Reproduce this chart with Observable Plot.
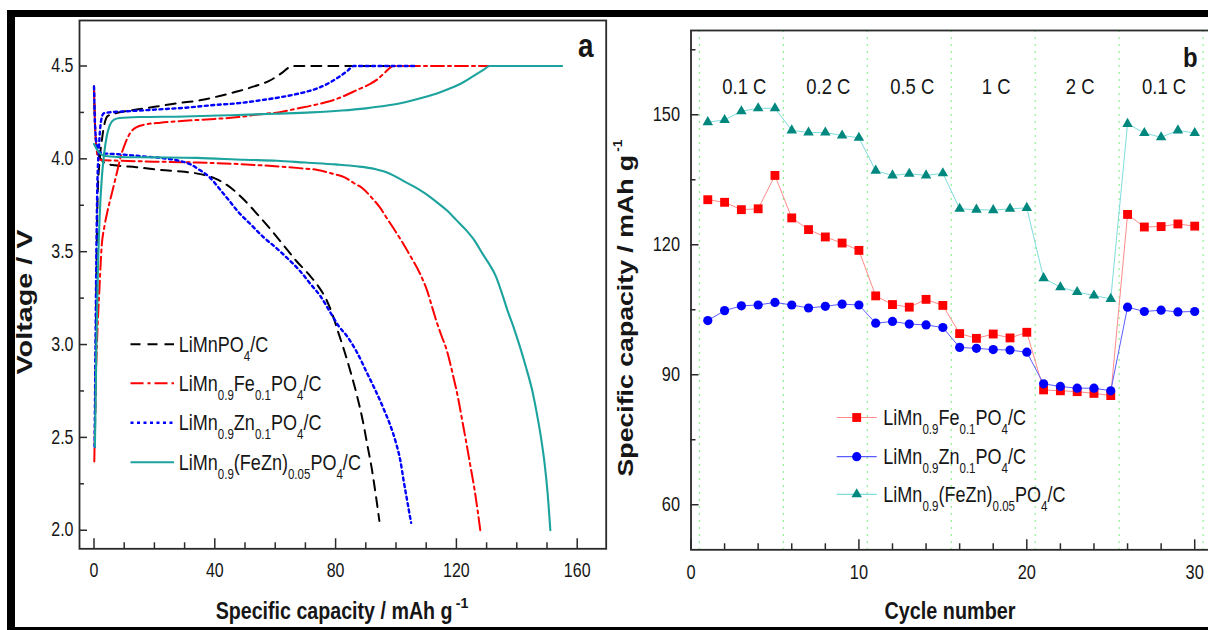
<!DOCTYPE html>
<html><head><meta charset="utf-8">
<script src="https://cdn.jsdelivr.net/npm/d3@7"></script>
<script src="https://cdn.jsdelivr.net/npm/@observablehq/plot@0.6"></script>
<style>
html,body{margin:0;padding:0;background:#fff;}
#wrap{position:relative;width:1208px;height:630px;overflow:hidden;background:#fff;font-family:"Liberation Sans",Arial,sans-serif;}
#wrap svg{position:absolute;top:0;}
.bar{position:absolute;background:#000;z-index:5;}
</style></head><body>
<div id="wrap"></div>
<script>
// ---------- Panel a: charge / discharge curves [capacity mAh/g, voltage V] ----------
const mnCharge = [[0.3,2.45],[0.6,3.0],[0.9,3.5],[1.2,3.8],[1.8,3.98],[2.6,4.1],[3.5,4.19],[4.5,4.23],[7,4.245],[12,4.26],[20,4.28],[28,4.30],[35,4.315],[42,4.34],[48,4.365],[53,4.39],[58,4.42],[62,4.46],[65,4.495],[67,4.5],[100,4.5]];
const mnDischarge = [[0,4.39],[0.3,4.2],[0.6,4.1],[1.2,4.04],[2.2,4.0],[4,3.975],[7,3.965],[14,3.955],[22,3.94],[30,3.93],[36,3.915],[40,3.895],[43,3.87],[46,3.835],[49,3.79],[52,3.74],[55,3.685],[59,3.61],[63,3.53],[67,3.45],[71,3.38],[74,3.32],[77,3.24],[79,3.16],[81,3.06],[83,2.96],[85,2.85],[87,2.73],[89,2.59],[90.5,2.46],[92,2.33],[93.3,2.19],[94.5,2.05]];
const feCharge = [[0.1,2.37],[0.6,2.8],[1.2,3.1],[1.8,3.3],[2.5,3.52],[3.5,3.64],[4.5,3.72],[6,3.82],[7.5,3.92],[9,4.02],[10.5,4.09],[12,4.14],[14,4.17],[17,4.185],[22,4.195],[30,4.205],[40,4.215],[48,4.225],[55,4.24],[61,4.25],[67,4.27],[73,4.29],[78,4.31],[83,4.34],[87,4.37],[91,4.40],[94,4.43],[96,4.46],[98,4.49],[99,4.5],[134,4.5]];
const feDischarge = [[0,4.39],[0.3,4.2],[0.7,4.08],[1.3,4.01],[2,3.995],[8,3.99],[20,3.985],[34,3.98],[48,3.972],[60,3.96],[68,3.95],[74,3.94],[79,3.92],[83,3.90],[86,3.87],[89,3.84],[92,3.79],[94.6,3.74],[97,3.68],[99.8,3.61],[102.5,3.54],[105,3.47],[108,3.38],[110.3,3.29],[112,3.2],[113.5,3.12],[115,3.05],[116.8,2.97],[118.8,2.84],[120.7,2.70],[122,2.585],[123.3,2.47],[124.7,2.34],[126,2.22],[127,2.11],[127.9,2.0]];
const znCharge = [[0.2,2.45],[0.5,3.0],[0.8,3.5],[1.1,3.85],[1.6,4.05],[2.3,4.2],[3.2,4.245],[5,4.25],[10,4.255],[20,4.265],[30,4.275],[40,4.29],[48,4.30],[55,4.315],[61,4.33],[66,4.345],[70,4.36],[74,4.38],[78,4.41],[81,4.44],[84,4.475],[86,4.5],[107,4.5]];
const znDischarge = [[0,4.39],[0.3,4.2],[0.7,4.1],[1.5,4.04],[3,4.03],[8,4.025],[15,4.015],[22,4.005],[28,3.99],[32,3.97],[35,3.94],[38,3.905],[40,3.87],[42,3.83],[45,3.77],[48,3.71],[52,3.645],[56,3.58],[60,3.525],[64,3.465],[68,3.40],[72,3.32],[75,3.26],[78,3.18],[81,3.10],[84,3.04],[87,2.96],[90.6,2.84],[93,2.76],[96,2.65],[98,2.57],[100,2.47],[101.5,2.37],[102.5,2.27],[103.8,2.15],[105,2.04]];
const feznCharge = [[0.3,2.45],[0.8,3.0],[1.3,3.4],[1.9,3.7],[2.6,3.9],[3.3,4.02],[4.2,4.12],[5.2,4.18],[6.5,4.21],[8.5,4.22],[15,4.225],[30,4.228],[45,4.235],[60,4.243],[72,4.25],[82,4.26],[90,4.272],[97,4.287],[103,4.305],[109,4.33],[114,4.355],[118,4.38],[122,4.41],[126,4.45],[129,4.48],[131,4.5],[155,4.5]];
const feznDischarge = [[0,4.08],[1,4.05],[2,4.03],[3.5,4.015],[8,4.01],[20,4.008],[34,4.005],[50,3.995],[60.6,3.99],[70,3.98],[80,3.97],[87,3.96],[93,3.945],[98,3.92],[102,3.885],[106,3.85],[110,3.81],[114,3.76],[117,3.72],[120,3.67],[123,3.62],[126,3.56],[129,3.48],[131,3.43],[133,3.37],[135,3.28],[137,3.18],[139,3.09],[141,2.99],[143,2.88],[145,2.76],[146.5,2.64],[148,2.5],[149.2,2.36],[150.2,2.2],[151.1,2.0]];
const xTicksA = [0,40,80,120,160];
const xMinorA = [10,20,30,50,60,70,90,100,110,130,140,150];
const yTicksA = [2.0,2.5,3.0,3.5,4.0,4.5];
const yMinorA = [2.25,2.75,3.25,3.75,4.25];

// ---------- Panel b: rate capability ----------
const cycles = [1,2,3,4,5,6,7,8,9,10,11,12,13,14,15,16,17,18,19,20,21,22,23,24,25,26,27,28,29,30];
const capFe = [130.4,129.8,128.1,128.3,136.0,126.2,123.5,121.8,120.4,118.7,108.2,106.2,105.6,107.4,106.0,99.5,98.4,99.4,98.5,99.8,86.5,86.3,86.1,85.7,85.2,127.0,124.1,124.2,124.8,124.3];
const capZn = [102.5,104.8,105.9,106.1,106.7,106.1,105.4,105.8,106.3,106.1,101.9,102.3,101.7,101.5,100.9,96.3,96.1,95.8,95.7,95.2,87.9,87.3,86.9,86.9,86.3,105.6,104.6,104.9,104.5,104.6];
const capFeZn = [148.3,148.8,150.8,151.5,151.5,146.4,145.9,145.9,145.2,144.7,137.1,136.0,136.4,136.0,136.5,128.3,128.1,128.0,128.3,128.5,112.3,110.2,109.1,108.3,107.5,147.9,145.8,144.8,146.4,145.8];
const rateLabels = ["0.1 C","0.2 C","0.5 C","1 C","2 C","0.1 C"];
const rateCycles = [3,8,13,18,23,28];
const rateBounds = [0.5,5.5,10.5,15.5,20.5,25.5,30.5];
const xTicksB = [0,10,20,30];
const xMinorB = [2,4,6,8,12,14,16,18,22,24,26,28];
const yTicksB = [60,90,120,150];
const yMinorB = [75,105,135,165];

// ---------- styles ----------
const stylesA = [
  {key:"mn", stroke:"#000000", dash:"10,7", width:2, charge:mnCharge, discharge:mnDischarge,
   label:[["LiMnPO",0],["4",1],["/C",0]]},
  {key:"fe", stroke:"#ff0000", dash:"13,4,3,4", width:2, charge:feCharge, discharge:feDischarge,
   label:[["LiMn",0],["0.9",1],["Fe",0],["0.1",1],["PO",0],["4",1],["/C",0]]},
  {key:"zn", stroke:"#0000ff", dash:"3,3.5", width:2.4, charge:znCharge, discharge:znDischarge,
   label:[["LiMn",0],["0.9",1],["Zn",0],["0.1",1],["PO",0],["4",1],["/C",0]]},
  {key:"fezn", stroke:"#1ca39e", dash:null, width:2.1, charge:feznCharge, discharge:feznDischarge,
   label:[["LiMn",0],["0.9",1],["(FeZn)",0],["0.05",1],["PO",0],["4",1],["/C",0]]}
];
const stylesB = [
  {key:"fe", values:capFe, line:"#ff8a8a", fill:"#ff0000", symbol:"square", r:5.0,
   label:[["LiMn",0],["0.9",1],["Fe",0],["0.1",1],["PO",0],["4",1],["/C",0]]},
  {key:"zn", values:capZn, line:"#5b5bff", fill:"#0000ff", symbol:"circle", r:4.6,
   label:[["LiMn",0],["0.9",1],["Zn",0],["0.1",1],["PO",0],["4",1],["/C",0]]},
  {key:"fezn", values:capFeZn, line:"#7fdcdc", fill:"#00877e", symbol:"triangle", r:3.9,
   label:[["LiMn",0],["0.9",1],["(FeZn)",0],["0.05",1],["PO",0],["4",1],["/C",0]]}
];

const TXT = "#161616", AX = "#2a2a2a", TICKFS = "19.5px";
const baseStyle = {fontFamily:"'Liberation Sans', Arial, sans-serif", fontSize:"19.5px", color:TXT, background:"transparent", overflow:"visible"};

function condense(svg, k) {
  svg.querySelectorAll("text").forEach(t => {
    const tr = t.getAttribute("transform") || "";
    const x = +t.getAttribute("x") || 0, y = +t.getAttribute("y") || 0;
    t.setAttribute("transform", `${tr} translate(${x},${y}) scale(${k},1) translate(${-x},${-y})`);
  });
}
function tickFont(svg) {
  d3.select(svg).selectAll('g[aria-label$="tick label"]').style("font-size", TICKFS).attr("font-size", TICKFS);
  d3.select(svg).selectAll('g[aria-label$="tick label"] text').style("font-size", TICKFS).attr("font-size", TICKFS);
}
// bold title (svg must be in the document): main part scaled to fit, superscript as its own text after it
function addTitle(svg, o) {
  const g = d3.select(svg).append("g").attr("transform", `translate(${o.x},${o.y}) rotate(${o.rotate||0})`);
  const gap = 3;
  const supW = o.sup ? o.size*0.62*0.9 : 0;
  const mainL = o.length - (o.sup ? supW + gap : 0);
  const cx = o.sup ? -(supW + gap)/2 : 0;
  const t = g.append("text").attr("text-anchor","middle").attr("font-weight","bold")
    .attr("font-size", o.size).attr("fill", TXT).text(o.text);
  const w = t.node().getComputedTextLength() || mainL;
  t.attr("transform", `translate(${cx},0) scale(${mainL / w},1)`);
  if (o.sup) {
    g.append("text").attr("x", cx + mainL/2 + gap).attr("y", -o.size*0.5)
      .attr("text-anchor","start").attr("font-weight","bold").attr("font-size", o.size*0.62)
      .attr("fill", TXT).text(o.sup);
  }
}
function legendText(g, segs, size, k) {
  const t = g.append("text").attr("transform", `scale(${k},1)`).attr("text-anchor","start")
    .attr("font-size", size).attr("fill", TXT);
  let low = false;
  segs.forEach(([s, isSub]) => {
    const ts = t.append("tspan").text(s);
    if (isSub) { ts.attr("font-size", size*0.64); if (!low) { ts.attr("dy", 9); low = true; } }
    else if (low) { ts.attr("dy", -9); low = false; }
  });
}

// ---------- Panel a ----------
const rowsA = stylesA.flatMap(s => [
  ...s.charge.map(([x,v]) => ({series:s.key, part:"charge", x, v})),
  ...s.discharge.map(([x,v]) => ({series:s.key, part:"discharge", x, v}))
]);
const plotA = Plot.plot({
  width:620, height:630, marginTop:20, marginLeft:79, marginRight:14.3, marginBottom:81.7,
  x:{domain:[-4.8,169.6]}, y:{domain:[1.9,4.745]},
  style: baseStyle,
  marks: [
    Plot.frame({stroke:AX, strokeWidth:1.8}),
    Plot.axisX(xTicksA, {tickSize:-10, tickPadding:24.5, stroke:AX, strokeWidth:1.5, fontSize:19.5, label:null}),
    Plot.axisX(xMinorA, {tickSize:-6, tickFormat:() => "", stroke:AX, strokeWidth:1.5, label:null}),
    Plot.axisY(yTicksA, {tickSize:-8, tickPadding:14, tickFormat:d3.format(".1f"), stroke:AX, strokeWidth:1.5, fontSize:19.5, label:null}),
    Plot.axisY(yMinorA, {tickSize:-5, tickFormat:() => "", stroke:AX, strokeWidth:1.5, label:null}),
    ...stylesA.map(s => Plot.line(rowsA.filter(d => d.series === s.key), {
      x:"x", y:"v", z:"part", stroke:s.stroke, strokeWidth:s.width, strokeDasharray:s.dash, curve:"monotone-x"
    })),
    Plot.text(["a"], {text:d => d, frameAnchor:"top-right", textAnchor:"end", lineAnchor:"bottom",
      dx:-12.7, dy:36.7, fontSize:34, fontWeight:"bold", fill:TXT})
  ]
});

// ---------- Panel b ----------
const rowsB = stylesB.flatMap(s => s.values.map((c,i) => ({series:s.key, cycle:cycles[i], cap:c})));
const rates = rateCycles.map((c,i) => ({c, label:rateLabels[i]}));
const plotB = Plot.plot({
  width:620, height:630, marginTop:30, marginLeft:70.5, marginRight:29, marginBottom:80.7,
  x:{domain:[0,31]}, y:{domain:[49.6,169.45]},
  style: baseStyle,
  marks: [
    Plot.ruleX(rateBounds, {stroke:"#8ff08f", strokeWidth:1.2, strokeDasharray:"2,5"}),
    Plot.frame({stroke:AX, strokeWidth:1.8}),
    Plot.axisX(xTicksB, {tickSize:-10, tickPadding:25, stroke:AX, strokeWidth:1.5, fontSize:19.5, label:null}),
    Plot.axisX(xMinorB, {tickSize:-6, tickFormat:() => "", stroke:AX, strokeWidth:1.5, label:null}),
    Plot.axisY(yTicksB, {tickSize:-8, tickPadding:19, stroke:AX, strokeWidth:1.5, fontSize:19.5, label:null}),
    Plot.axisY(yMinorB, {tickSize:-5, tickFormat:() => "", stroke:AX, strokeWidth:1.5, label:null}),
    ...stylesB.map(s => Plot.line(rowsB.filter(d => d.series === s.key), {x:"cycle", y:"cap", stroke:s.line, strokeWidth:1})),
    ...stylesB.map(s => Plot.dot(rowsB.filter(d => d.series === s.key), {x:"cycle", y:"cap", symbol:s.symbol, r:s.r, fill:s.fill, stroke:"none"})),
    Plot.text(rates, {x:"c", text:"label", frameAnchor:"top", lineAnchor:"bottom", dx:3, dy:63.3, fontSize:22, fill:TXT}),
    Plot.text(["b"], {text:d => d, frameAnchor:"top-right", textAnchor:"end", lineAnchor:"bottom",
      dx:-14, dy:36.7, fontSize:28.5, fontWeight:"bold", fill:TXT})
  ]
});

tickFont(plotA); tickFont(plotB);
condense(plotA, 0.82);
condense(plotB, 0.84);

const wrap = document.getElementById("wrap");
plotA.style.left = "0px";
plotB.style.left = "620px";
wrap.appendChild(plotA);
wrap.appendChild(plotB);

// titles
addTitle(plotA, {x:342, y:619, text:"Specific capacity / mAh g", sup:"-1", size:23, length:253});
addTitle(plotA, {x:32, y:302, rotate:-90, text:"Voltage / V", size:22, length:145});
addTitle(plotB, {x:330, y:619, text:"Cycle number", size:23, length:131});
addTitle(plotB, {x:13, y:308, rotate:-90, text:"Specific capacity / mAh g", sup:"-1", size:22, length:337});

// legend a
const legA = d3.select(plotA).append("g");
const rowsLegA = [344.3, 383.3, 422.7, 462.3];
stylesA.forEach((s,i) => {
  const y = rowsLegA[i];
  legA.append("line").attr("x1",130.5).attr("x2",174).attr("y1",y).attr("y2",y)
    .attr("stroke", s.stroke).attr("stroke-width", s.width).attr("stroke-dasharray", s.dash);
  legendText(legA.append("g").attr("transform",`translate(178.7,${y+7.5})`), s.label, 22, 0.82);
});
// legend b
const legB = d3.select(plotB).append("g");
const rowsLegB = [417.5, 456.7, 494.3];
const symMap = {square:d3.symbolSquare, circle:d3.symbolCircle, triangle:d3.symbolTriangle};
stylesB.forEach((s,i) => {
  const y = rowsLegB[i];
  legB.append("line").attr("x1",216.7).attr("x2",256.7).attr("y1",y).attr("y2",y)
    .attr("stroke", s.line).attr("stroke-width", 1.2);
  legB.append("path").attr("transform",`translate(236.7,${y})`)
    .attr("d", d3.symbol(symMap[s.symbol], Math.PI*s.r*s.r)()).attr("fill", s.fill);
  legendText(legB.append("g").attr("transform",`translate(263.3,${y+7.5})`), s.label, 22, 0.82);
});

[["6.7px","10px","1201.3px","6.7px"],["6.7px","10px","8.3px","620px"],["6.7px","626.7px","1201.3px","3.3px"]]
  .forEach(([l,t,w,h]) => {
    const d = document.createElement("div"); d.className = "bar";
    Object.assign(d.style, {left:l, top:t, width:w, height:h}); wrap.appendChild(d);
  });
</script></body></html>
